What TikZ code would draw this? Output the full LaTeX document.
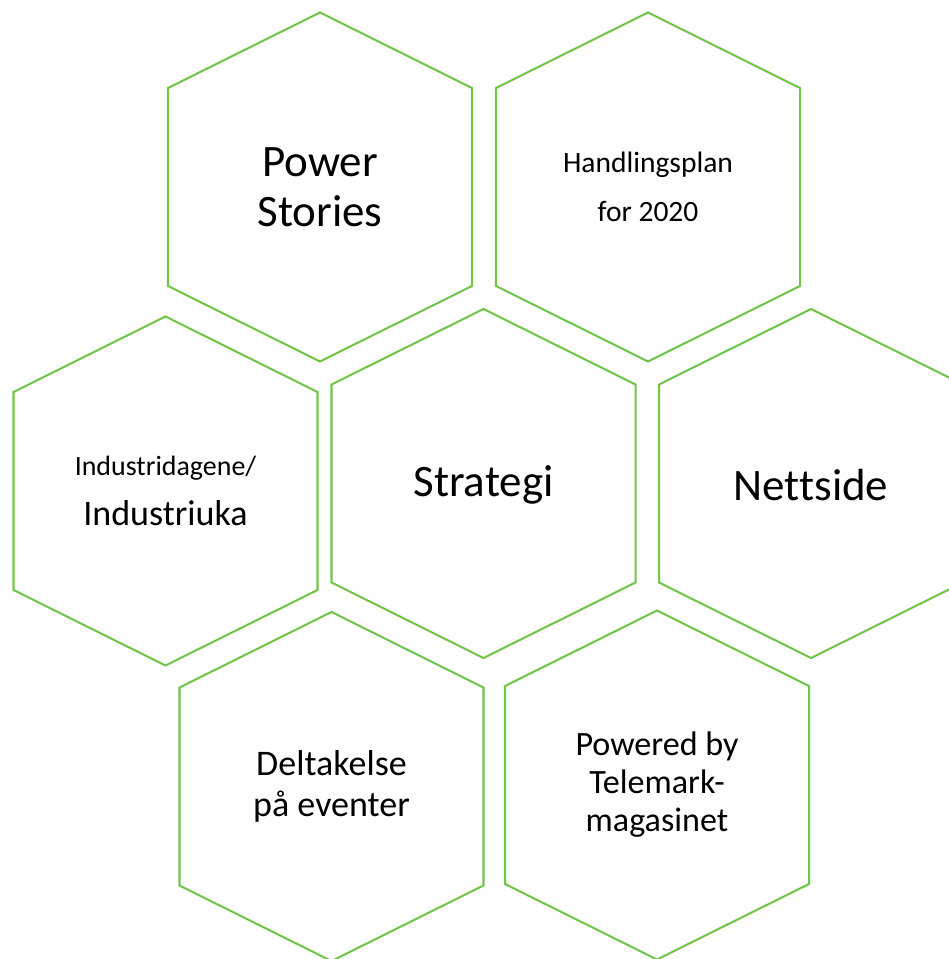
\documentclass[tikz,border=0pt]{standalone}
\usepackage{fontspec}
\setmainfont[Ligatures=NoCommon]{Carlito}
\definecolor{hexgreen}{RGB}{112,196,72}

\begin{document}
\begin{tikzpicture}[x=0.02cm,y=-0.02cm,
    hexline/.style={draw=hexgreen,line width=1.15pt,line join=miter},
    big/.style={font=\fontsize{25.6}{28.5}\selectfont,align=center},
    small/.style={font=\fontsize{16.8}{27.9}\selectfont,align=center},
    mid/.style={font=\fontsize{20.5}{23}\selectfont,align=center}]

    \useasboundingbox (0,0) rectangle (948,959);

    \node[big] (ps) at (320,187) {Power\\Stories};
    \node[small] (hp) at (648,187) {Handlingsplan\\for 2020};
    \node[font=\fontsize{20.5}{28.5}\selectfont,align=center] (id) at (165.5,491)
        {{\fontsize{15.9}{28.5}\selectfont Industridagene/}\\ Industriuka};
    \node[big] (st) at (483.5,485) {Strategi};
    \node[big] (ns) at (811,485) {Nettside};
    \node[mid] (de) at (331.5,786.5) {Deltakelse\\på eventer};
    \node[font=\fontsize{19.4}{21.6}\selectfont,align=center] (pb) at (657,785)
        {Powered by\\Telemark-\\magasinet};

    % hexagon round each node
    \foreach \n/\dy in {ps/0,hp/0,id/0,st/-1.5,ns/-1.5,de/0,pb/0}
        \draw[hexline] (\n.center) ++(0,-174.5+\dy) -- ++(152,75.5) -- ++(0,198)
            -- ++(-152,75.5) -- ++(-152,-75.5) -- ++(0,-198) -- cycle;
\end{tikzpicture}
\end{document}
